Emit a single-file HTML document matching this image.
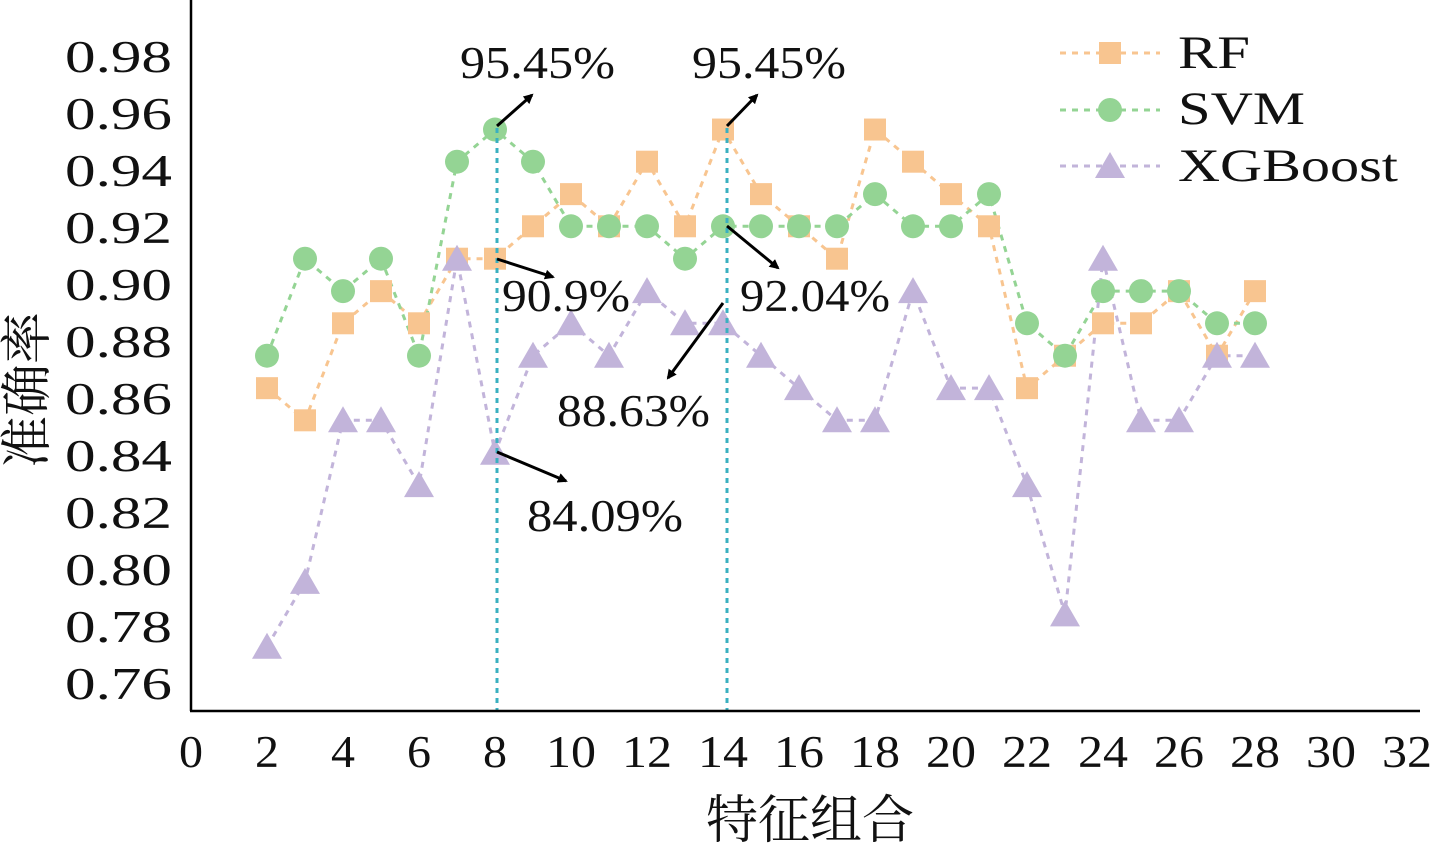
<!DOCTYPE html>
<html><head><meta charset="utf-8"><style>
html,body{margin:0;padding:0;background:#fff;}
svg text{font-family:"Liberation Serif","Noto Serif CJK SC",serif;fill:#111;}
</style></head><body>
<svg id="s" width="1440" height="847" viewBox="0 0 1440 847" xmlns="http://www.w3.org/2000/svg">
<defs><marker id="ar" markerWidth="10" markerHeight="10" refX="8" refY="5" orient="auto" markerUnits="userSpaceOnUse"><path d="M0,0 L10,5 L0,10 z" fill="#000"/></marker></defs>
<g id="plot"></g>
<line x1="191" y1="0" x2="191" y2="711" stroke="#000" stroke-width="2.5"/>
<line x1="190" y1="711" x2="1420" y2="711" stroke="#000" stroke-width="2.5"/>
<g font-size="45" lengthAdjust="spacingAndGlyphs">
<text x="65" y="72" textLength="107" lengthAdjust="spacingAndGlyphs">0.98</text>
<text x="65" y="129" textLength="107" lengthAdjust="spacingAndGlyphs">0.96</text>
<text x="65" y="186" textLength="107" lengthAdjust="spacingAndGlyphs">0.94</text>
<text x="65" y="243" textLength="107" lengthAdjust="spacingAndGlyphs">0.92</text>
<text x="65" y="300" textLength="107" lengthAdjust="spacingAndGlyphs">0.90</text>
<text x="65" y="357" textLength="107" lengthAdjust="spacingAndGlyphs">0.88</text>
<text x="65" y="414" textLength="107" lengthAdjust="spacingAndGlyphs">0.86</text>
<text x="65" y="471" textLength="107" lengthAdjust="spacingAndGlyphs">0.84</text>
<text x="65" y="528" textLength="107" lengthAdjust="spacingAndGlyphs">0.82</text>
<text x="65" y="585" textLength="107" lengthAdjust="spacingAndGlyphs">0.80</text>
<text x="65" y="642" textLength="107" lengthAdjust="spacingAndGlyphs">0.78</text>
<text x="65" y="699" textLength="107" lengthAdjust="spacingAndGlyphs">0.76</text>
</g>
<g font-size="45" id="xt"></g>
<text x="810" y="838" font-size="52" text-anchor="middle">特征组合</text>
<text transform="translate(45,390) rotate(-90)" font-size="52" text-anchor="middle">准确率</text>
<g font-size="45">
<text x="460" y="78" textLength="155" lengthAdjust="spacingAndGlyphs">95.45%</text>
<text x="692" y="78" textLength="154" lengthAdjust="spacingAndGlyphs">95.45%</text>
<text x="502" y="311" textLength="128" lengthAdjust="spacingAndGlyphs">90.9%</text>
<text x="740" y="311" textLength="150" lengthAdjust="spacingAndGlyphs">92.04%</text>
<text x="557" y="426" textLength="153" lengthAdjust="spacingAndGlyphs">88.63%</text>
<text x="527" y="531" textLength="156" lengthAdjust="spacingAndGlyphs">84.09%</text>
</g>
<g stroke="#000" stroke-width="3" marker-end="url(#ar)">
<line x1="497" y1="126" x2="532" y2="95"/><line x1="727" y1="126" x2="757" y2="95"/>
<line x1="497" y1="259" x2="553" y2="277"/><line x1="727" y1="226" x2="778" y2="268"/>
<line x1="723" y1="303" x2="668" y2="378"/><line x1="497" y1="452" x2="566" y2="481"/>
</g>
<g font-size="47">
<text x="1178" y="68" textLength="72" lengthAdjust="spacingAndGlyphs">RF</text>
<text x="1178" y="124" textLength="127" lengthAdjust="spacingAndGlyphs">SVM</text>
<text x="1178" y="181" textLength="220" lengthAdjust="spacingAndGlyphs">XGBoost</text>
</g>
</svg>
<script>
const X=v=>191+v*38, Y=v=>57+(0.98-v)/0.02*56.9;
const rf=[.8636,.8523,.8864,.8977,.8864,.9091,.9091,.9205,.9318,.9205,.9432,.9205,.9545,.9318,.9205,.9091,.9545,.9432,.9318,.9205,.8636,.875,.8864,.8864,.8977,.875,.8977];
const sv=[.875,.9091,.8977,.9091,.875,.9432,.9545,.9432,.9205,.9205,.9205,.9091,.9205,.9205,.9205,.9205,.9318,.9205,.9205,.9318,.8864,.875,.8977,.8977,.8977,.8864,.8864];
const xg=[.7727,.7955,.8523,.8523,.8295,.9091,.8409,.875,.8864,.875,.8977,.8864,.8864,.875,.8636,.8523,.8523,.8977,.8636,.8636,.8295,.7841,.9091,.8523,.8523,.875,.875];
const g=document.getElementById('plot');let h='';
function line(d,c){h+=`<polyline fill="none" stroke="${c}" stroke-width="3" stroke-dasharray="6,6" points="${d.map((v,i)=>X(i+2)+','+Y(v)).join(' ')}"/>`;}
function sq(x,y,c){h+=`<rect x="${x-11}" y="${y-11}" width="22" height="22" fill="${c}"/>`;}
function ci(x,y,c){h+=`<circle cx="${x}" cy="${y}" r="12" fill="${c}"/>`;}
function tr(x,y,c){h+=`<polygon points="${x},${y-14} ${x-15},${y+12} ${x+15},${y+12}" fill="${c}"/>`;}
const cR='#f8c590',cS='#94d494',cX='#c2b4da';
line(rf,cR);line(sv,cS);line(xg,cX);
rf.forEach((v,i)=>sq(X(i+2),Y(v),cR));
sv.forEach((v,i)=>ci(X(i+2),Y(v),cS));
xg.forEach((v,i)=>tr(X(i+2),Y(v),cX));
h+=`<line x1="497" y1="128" x2="497" y2="711" stroke="#3ab0c0" stroke-width="3" stroke-dasharray="5,5"/><line x1="727" y1="128" x2="727" y2="711" stroke="#3ab0c0" stroke-width="3" stroke-dasharray="5,5"/>`;
[[53,cR,sq],[110,cS,ci],[166,cX,tr]].forEach(([y,c,f])=>{h+=`<line x1="1060" y1="${y}" x2="1160" y2="${y}" stroke="${c}" stroke-width="3" stroke-dasharray="6,6"/>`;f(1110,y,c);});
g.innerHTML=h;
</script>
<script>
(function(){const xt=document.getElementById('xt');let s='';
for(let v=0;v<=32;v+=2){const w=v<10?24:50;const cx=191+v*38;s+=`<text x="${cx-w/2}" y="767" textLength="${w}" lengthAdjust="spacingAndGlyphs">${v}</text>`;}
xt.innerHTML=s;})();
</script>
</body></html>
